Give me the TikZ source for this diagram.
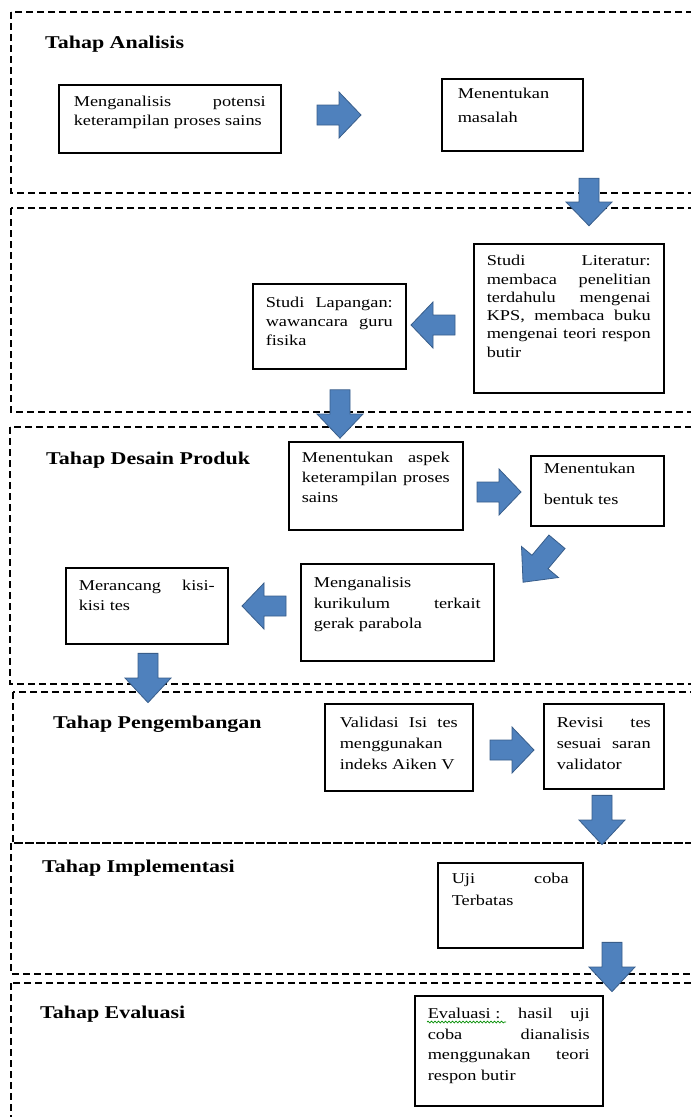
\documentclass[tikz,border=0pt]{standalone}
\usepackage{fontspec}
\setmainfont{Liberation Serif}[FakeStretch=1.22]
\usetikzlibrary{decorations.pathmorphing}
\definecolor{arrfill}{HTML}{4F81BD}
\definecolor{arrline}{HTML}{385D8A}
% #1 text width, #2 box height, #3 first baseline offset, #4 line spacing, #5 text
\newcommand\bxt[5]{\parbox[t][#2][t]{#1}{\fontsize{15}{#4}\selectfont\raggedright\rule{0pt}{#3}#5}}
\tikzset{
  phase/.style={draw=black, line width=1.1pt, dash pattern=on 7pt off 4pt},
  stepbox/.style={draw=black, line width=1.5pt, inner ysep=0pt, anchor=north west},
  heading/.style={anchor=base west, inner sep=0pt, font=\fontsize{18}{22}\selectfont\bfseries},
  barrow/.pic={\path[fill=arrfill, draw=arrline, line width=0.8pt]
     (-22,-10) -- (0,-10) -- (0,-23) -- (22,0) -- (0,23) -- (0,10) -- (-22,10) -- cycle;}
}
\begin{document}
\begin{tikzpicture}[x=1pt,y=-1pt]
\useasboundingbox (0,0) rectangle (691,1117);
\clip (0,0) rectangle (691,1117);
% phases
\draw[phase] (11,12) rectangle (710,193);
\draw[phase] (11,208) rectangle (710,412);
\draw[phase] (10,427) rectangle (710,684);
\draw[phase] (13,692) rectangle (710,843);
\draw[phase] (11,843) rectangle (710,974);
\draw[phase] (11,983) rectangle (710,1130);
% headings
\node[heading] (h1) at (45,48) {Tahap Analisis};
\node[heading] (h3) at (46,464) {Tahap Desain Produk};
\node[heading] (h4) at (53,728) {Tahap Pengembangan};
\node[heading] (h5) at (42,872) {Tahap Implementasi};
\node[heading] (h6) at (40,1018) {Tahap Evaluasi};
% boxes
\node[stepbox, inner xsep=15pt] (a1) at (58,84) {\bxt{192pt}{68pt}{22pt}{19pt}{Menganalisis\hfill potensi\\ keterampilan proses sains}};
\node[stepbox, inner xsep=16pt] (a2) at (441,78) {\bxt{109pt}{72pt}{20pt}{24pt}{Menentukan\\ masalah}};
\node[stepbox, inner xsep=13pt] (l1) at (473,243) {\bxt{164pt}{149pt}{22pt}{18.3pt}{Studi\hfill Literatur:\\ membaca\hfill penelitian\\ terdahulu\hfill mengenai\\ KPS,\hfill membaca\hfill buku\\ mengenai\hfill teori\hfill respon\\ butir}};
\node[stepbox, inner xsep=13pt] (l2) at (252,283) {\bxt{127pt}{85pt}{24pt}{19pt}{Studi\hfill Lapangan:\\ wawancara\hfill guru\\ fisika}};
\node[stepbox, inner xsep=13pt] (d1) at (288,441) {\bxt{148pt}{88pt}{21pt}{20pt}{Menentukan\hfill aspek\\ keterampilan\hfill proses\\ sains}};
\node[stepbox, inner xsep=13pt] (d2) at (530,455) {\bxt{107pt}{70pt}{18pt}{31pt}{Menentukan\\ bentuk tes}};
\node[stepbox, inner xsep=13pt] (d3) at (300,563) {\bxt{167pt}{97pt}{24pt}{20.5pt}{Menganalisis\\ kurikulum\hfill terkait\\ gerak parabola}};
\node[stepbox, inner xsep=13pt] (d4) at (65,567) {\bxt{136pt}{76pt}{23pt}{20pt}{Merancang\hfill kisi-\\ kisi tes}};
\node[stepbox, inner xsep=15pt] (p1) at (324,703) {\bxt{118pt}{87pt}{24pt}{21pt}{Validasi\hfill Isi\hfill tes\\ menggunakan\\ indeks Aiken V}};
\node[stepbox, inner xsep=13pt] (p2) at (543,703) {\bxt{94pt}{85pt}{24pt}{21pt}{Revisi\hfill tes\\ sesuai\hfill saran\\ validator}};
\node[stepbox, inner xsep=14pt] (i1) at (437,862) {\bxt{117pt}{85pt}{21pt}{22pt}{Uji\hfill coba\\ Terbatas}};
\node[stepbox, inner xsep=13pt] (e1) at (414,995) {\bxt{162pt}{110pt}{23pt}{20.5pt}{Evaluasi :\hfill hasil\hfill uji\\ coba\hfill dianalisis\\ menggunakan\hfill teori\\ respon butir}};
% spell-check squiggle
\draw[green!55!black, line width=0.7pt, decorate, decoration={snake, amplitude=0.9pt, segment length=3.5pt}] (427,1022) -- (506,1022);
% block arrows
\pic[rotate=0] at (339,115) {barrow};
\pic[rotate=-90, xscale=1.08] at (589,202) {barrow};
\pic[rotate=180] at (433,325) {barrow};
\pic[rotate=-90, xscale=1.1] at (340,414) {barrow};
\pic[rotate=0] at (499,492) {barrow};
\pic[rotate=230, xscale=1.2, yscale=1.05] at (540,562) {barrow};
\pic[rotate=180] at (264,606) {barrow};
\pic[rotate=-90, xscale=1.12] at (148,678) {barrow};
\pic[rotate=0] at (512,750) {barrow};
\pic[rotate=-90, xscale=1.12] at (602,820) {barrow};
\pic[rotate=-90, xscale=1.12] at (612,967) {barrow};
\end{tikzpicture}
\end{document}
